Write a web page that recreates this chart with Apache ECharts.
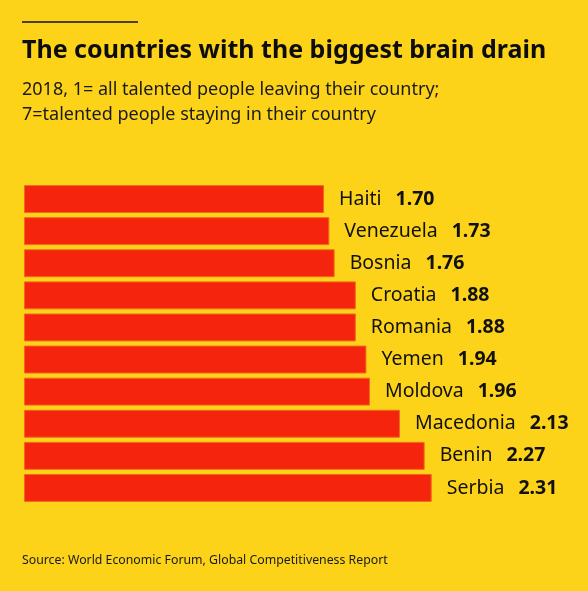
<!DOCTYPE html>
<html lang="en">
<head>
    <meta charset="UTF-8">
    <title>The countries with the biggest brain drain</title>
    <script src="https://cdn.jsdelivr.net/npm/echarts@6.0.0/dist/echarts.min.js"></script>
    <style>
        html, body {
            margin: 0;
            padding: 0;
            background: #fdd31a;
        }
        #chart {
            width: 588px;
            height: 591px;
        }
    </style>
</head>
<body>
    <div id="chart"></div>

    <script>
        // 2018 brain drain score, 1 = all leaving, 7 = all staying
        const countries = ['Haiti', 'Venezuela', 'Bosnia', 'Croatia', 'Romania',
            'Yemen', 'Moldova', 'Macedonia', 'Benin', 'Serbia'];
        const scores = [1.70, 1.73, 1.76, 1.88, 1.88, 1.94, 1.96, 2.13, 2.27, 2.31];

        const FONT = '"Noto Sans", sans-serif';
        const chart = echarts.init(document.getElementById('chart'));

        const option = {
            backgroundColor: '#fdd31a',
            animation: false,
            graphic: [
                {
                    type: 'line',
                    shape: {x1: 22, y1: 22, x2: 138, y2: 22},
                    style: {stroke: '#111', lineWidth: 1.5}
                },
                {
                    type: 'text',
                    left: 22,
                    top: 38,
                    style: {
                        text: 'The countries with the biggest brain drain',
                        font: 'bold 25px ' + FONT,
                        fill: '#0d0d0d'
                    }
                },
                {
                    type: 'text',
                    left: 22,
                    top: 77,
                    style: {
                        text: '2018, 1= all talented people leaving their country;\n7=talented people staying in their country',
                        font: '18px ' + FONT,
                        lineHeight: 25,
                        fill: '#1a1a1a'
                    }
                },
                {
                    type: 'text',
                    left: 22,
                    top: 554,
                    style: {
                        text: 'Source: World Economic Forum, Global Competitiveness Report',
                        font: '12.3px ' + FONT,
                        fill: '#1a1a1a'
                    }
                }
            ],
            grid: {
                left: 24,
                top: 183,
                width: 529.5,
                height: 321
            },
            xAxis: {
                type: 'value',
                min: 0,
                max: 3,
                show: false
            },
            yAxis: {
                type: 'category',
                data: countries,
                inverse: true,
                show: false
            },
            series: [
                {
                    type: 'bar',
                    data: scores,
                    barCategoryGap: '13%',
                    itemStyle: {
                        color: '#f4250c',
                        borderColor: '#f06a1c',
                        borderWidth: 1
                    },
                    label: {
                        show: true,
                        position: 'right',
                        distance: 15,
                        formatter: p => '{n|' + countries[p.dataIndex] + '}{v|' + scores[p.dataIndex].toFixed(2) + '}',
                        rich: {
                            n: {fontFamily: FONT, fontSize: 19.5, color: '#111'},
                            v: {fontFamily: FONT, fontSize: 19.5, fontWeight: 'bold', color: '#111', padding: [0, 0, 0, 14]}
                        }
                    }
                }
            ]
        };

        chart.setOption(option);
    </script>
</body>
</html>
